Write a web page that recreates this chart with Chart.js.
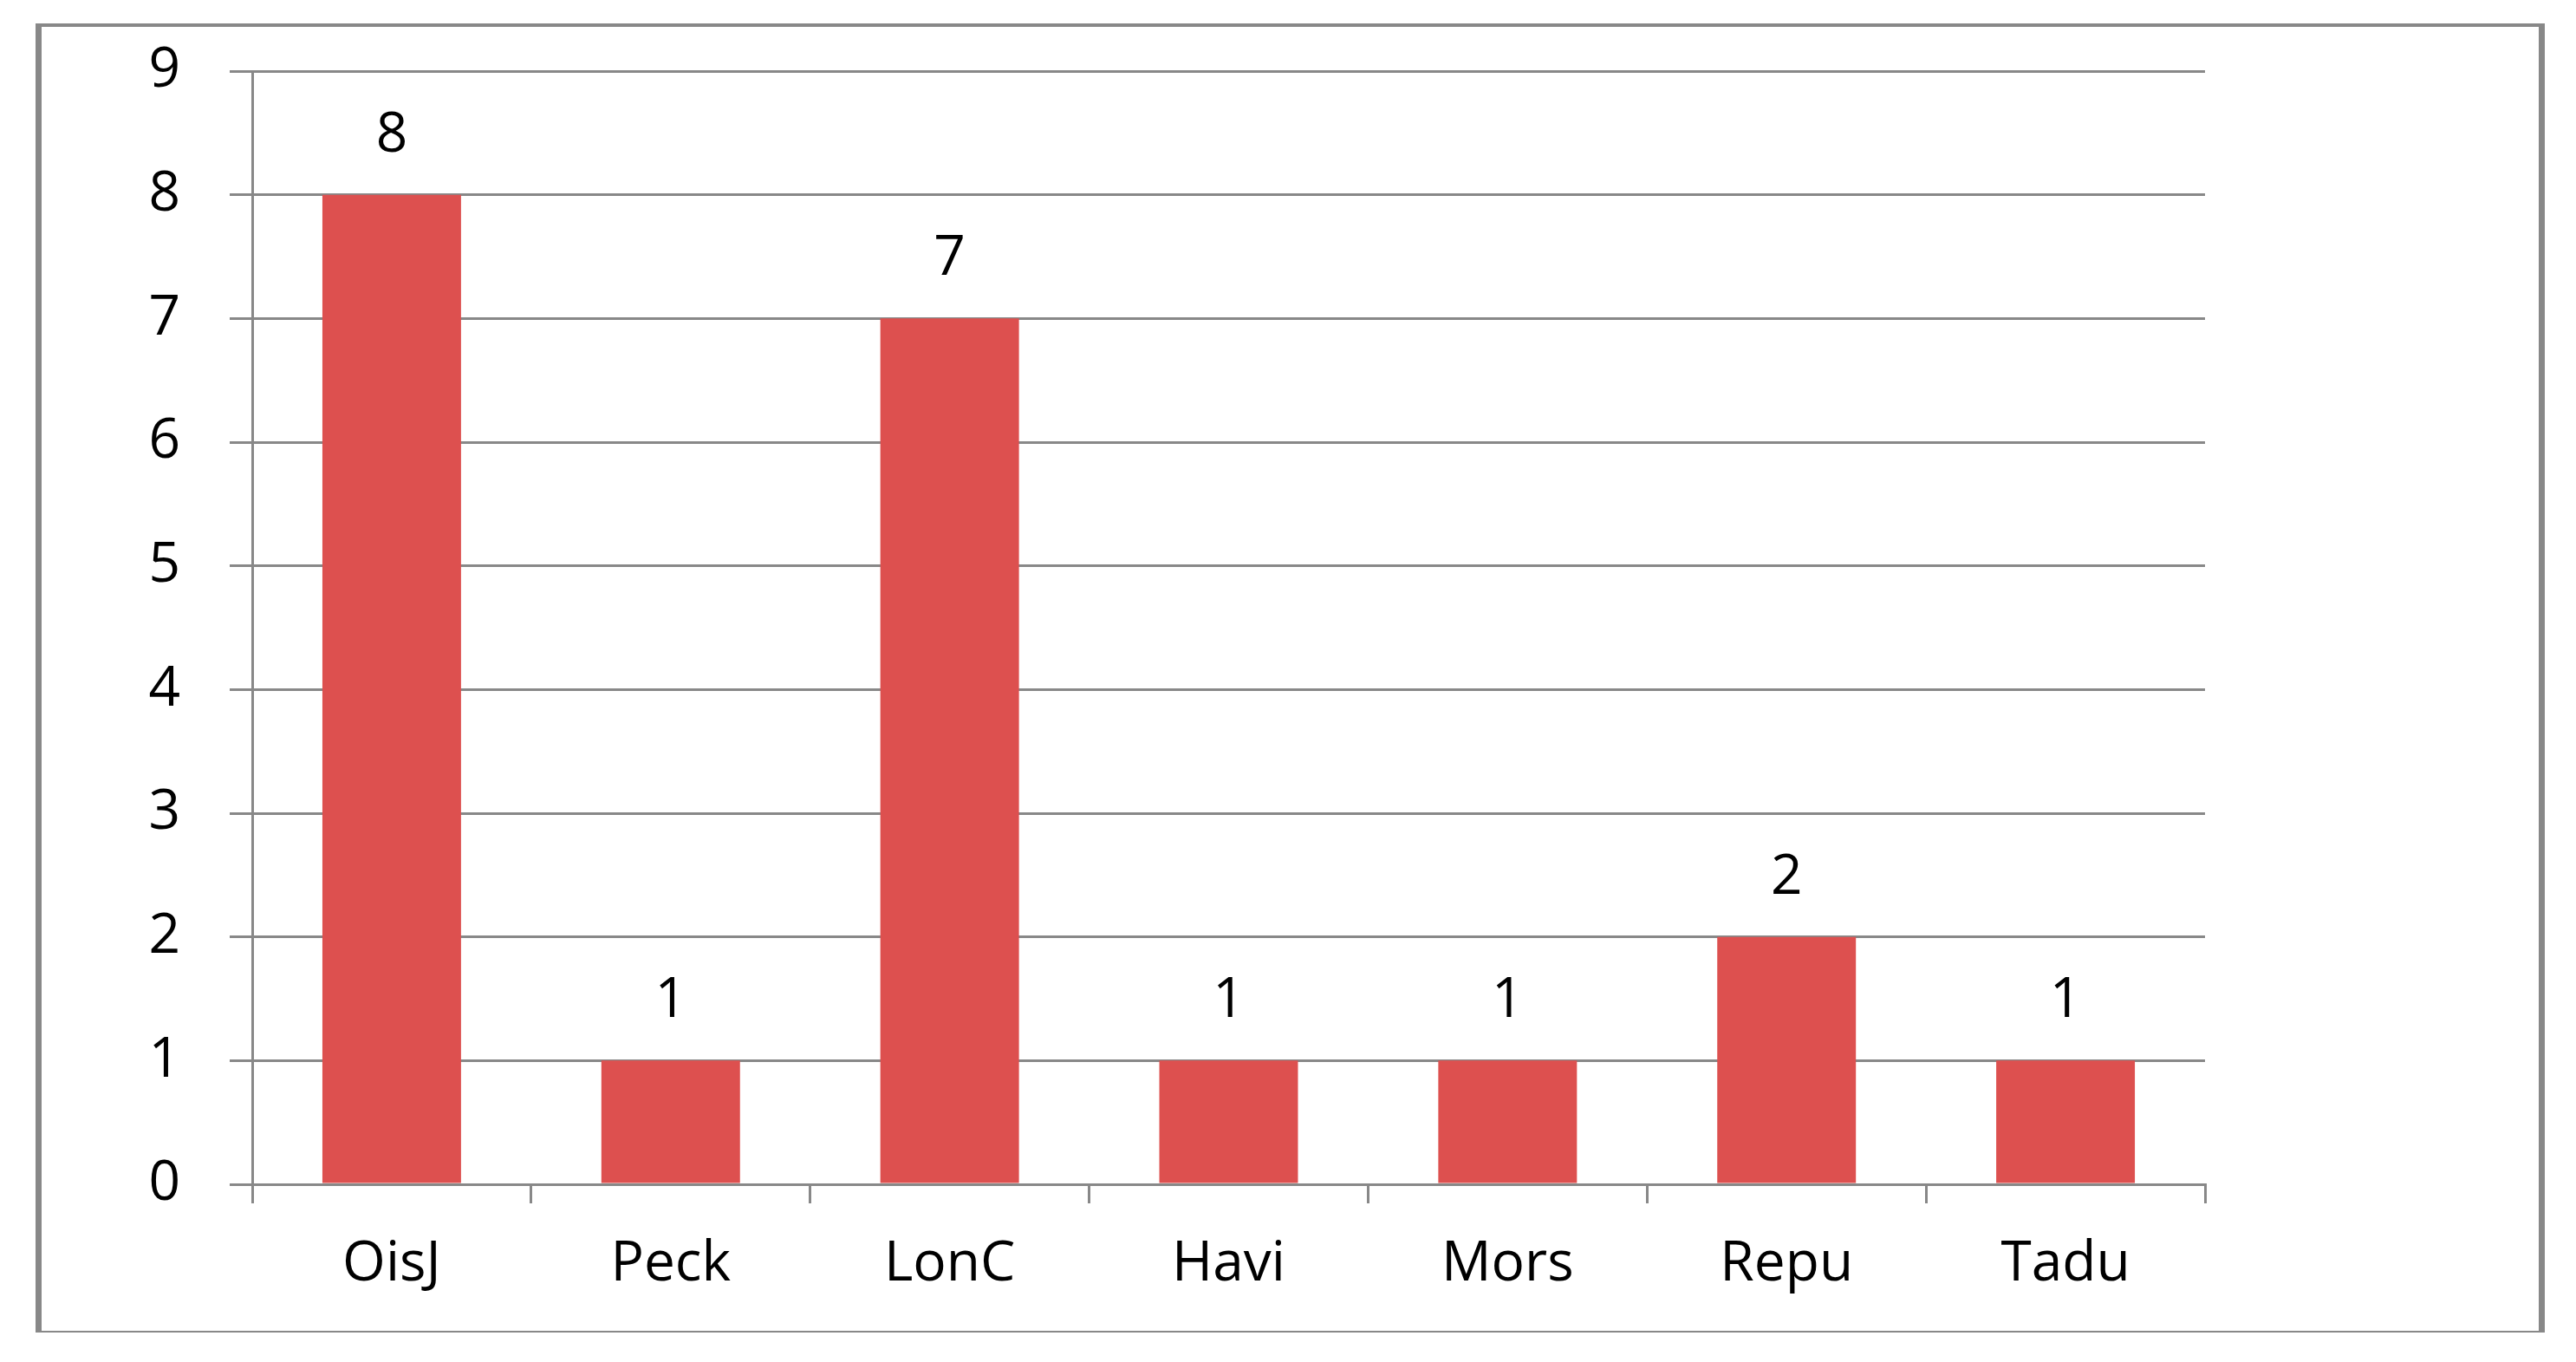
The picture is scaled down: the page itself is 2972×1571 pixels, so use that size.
<!DOCTYPE html>
<html>
<head>
<meta charset="utf-8">
<title>Chart</title>
<script src="https://cdn.jsdelivr.net/npm/chart.js@4/dist/chart.umd.min.js"></script>
<style>
  html, body { margin: 0; padding: 0; background: #fff; }
  #marco {
    position: absolute; left: 41px; top: 27px; width: 2895px; height: 1510px;
    box-sizing: border-box; border-style: solid; border-color: #888;
    border-width: 4px 7px 2px 7px;
  }
  #lienzo { position: absolute; left: 0; top: 0; }
</style>
</head>
<body>
<div id="marco"></div>
<canvas id="lienzo" width="2972" height="1571"></canvas>
<script>
const categorias = ['OisJ', 'Peck', 'LonC', 'Havi', 'Mors', 'Repu', 'Tadu'];
const valores = [8, 1, 7, 1, 1, 2, 1];
const ejeY = { min: 0, max: 9, paso: 1 };

const gris = '#888888';
const fuente = { family: "'Open Sans', sans-serif", size: 64 };

// etiquetas encima de cada barra
const etiquetasBarras = {
  id: 'etiquetasBarras',
  afterDatasetsDraw(chart) {
    const ctx = chart.ctx;
    const meta = chart.getDatasetMeta(0);
    ctx.save();
    ctx.font = fuente.size + 'px ' + fuente.family;
    ctx.fillStyle = '#000';
    ctx.textAlign = 'center';
    ctx.textBaseline = 'alphabetic';
    meta.data.forEach((barra, i) => {
      ctx.fillText(String(valores[i]), barra.x, barra.y - 50);
    });
    ctx.restore();
  }
};

document.addEventListener('DOMContentLoaded', function() {
  new Chart(document.getElementById('lienzo').getContext('2d'), {
    type: 'bar',
    data: {
      labels: categorias,
      datasets: [{ data: valores, backgroundColor: '#DD504F', borderWidth: 0,
                   categoryPercentage: 1, barPercentage: 0.497 }]
    },
    options: {
      responsive: false,
      animation: false,
      devicePixelRatio: 1,
      layout: { padding: { left: 0, right: 428, top: 82, bottom: 0 } },
      plugins: { legend: { display: false }, tooltip: { enabled: false } },
      scales: {
        x: {
          grid: { drawOnChartArea: false, drawTicks: true, tickLength: 22, color: gris, lineWidth: 3, offset: true },
          border: { display: true, color: gris, width: 3 },
          ticks: { color: '#000', font: fuente, padding: 32, maxRotation: 0 },
          afterFit: (s) => { s.height = 205; }
        },
        y: {
          min: ejeY.min, max: ejeY.max,
          grid: { color: gris, lineWidth: 3, tickLength: 26, drawTicks: true },
          border: { display: true, color: gris, width: 3 },
          ticks: { stepSize: ejeY.paso, color: '#000', font: fuente, padding: 57 },
          afterFit: (s) => { s.width = 291; s.paddingTop = 0; s.paddingBottom = 0; }
        }
      }
    },
    plugins: [etiquetasBarras]
  });
});
</script>
</body>
</html>
